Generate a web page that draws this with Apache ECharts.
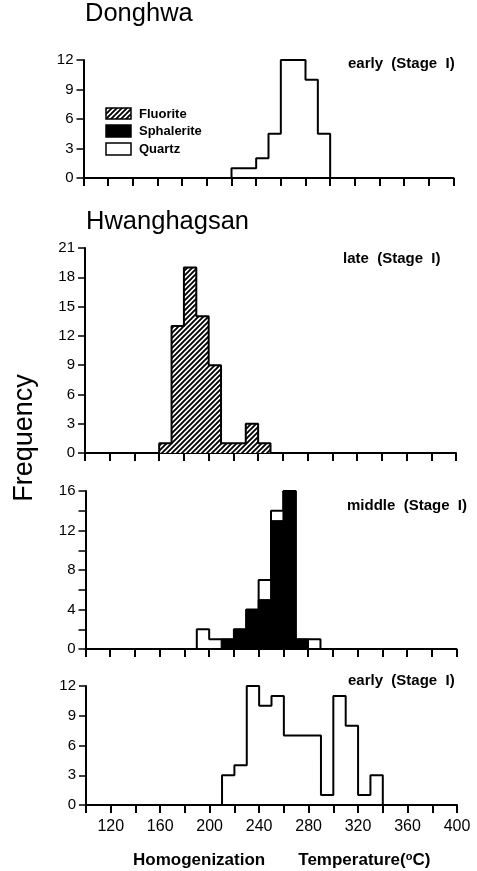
<!DOCTYPE html>
<html>
<head>
<meta charset="utf-8">
<script src="https://cdn.jsdelivr.net/npm/echarts@6/dist/echarts.min.js"></script>
<style>
html, body { margin: 0; padding: 0; background: #fff; }
#chart { width: 477px; height: 871px; }
</style>
</head>
<body>
<div id="chart"></div>
<script>
// histogram bins are 10 degC wide; each array starts at the given temperature
var binWidth = 10;
var donghwaStart = 220;
var donghwaQuartz = [1, 1, 2, 4.5, 12, 12, 10, 4.5];
var lateStart = 160;
var lateFluorite = [1, 13, 19, 14, 9, 1, 1, 3, 1];
var middleStart = 190;
var middleSphalerite = [0, 0, 1, 2, 4, 5, 13, 16, 1, 0];
var middleQuartz = [2, 1, 0, 0, 0, 2, 1, 0, 0, 1];
var earlyStart = 210;
var earlyQuartz = [3, 4, 12, 10, 11, 7, 7, 7, 1, 11, 8, 1, 3];
var xLabels = [120, 160, 200, 240, 280, 320, 360, 400];

var FONT = "'Liberation Sans', Arial, sans-serif";

function hatchCanvas() {
    var s = 5, c = document.createElement('canvas');
    c.width = s; c.height = s;
    var g = c.getContext('2d');
    g.fillStyle = '#fff';
    g.fillRect(0, 0, s, s);
    g.strokeStyle = '#000';
    g.lineWidth = 1.9;
    g.beginPath();
    g.moveTo(0, s); g.lineTo(s, 0);
    g.moveTo(-1, 1); g.lineTo(1, -1);
    g.moveTo(s - 1, s + 1); g.lineTo(s + 1, s - 1);
    g.stroke();
    return c;
}
var hatch = {image: hatchCanvas(), repeat: 'repeat'};

function stepData(start, vals) {
    var pts = [[start, 0]];
    vals.forEach(function (v, i) { pts.push([start + i * binWidth, v]); });
    pts.push([start + vals.length * binWidth, 0]);
    return pts;
}
function binData(start, vals) {
    return vals.map(function (v, i) {
        return [start + i * binWidth, start + (i + 1) * binWidth, v];
    });
}
function outline(idx, pts) {
    return {
        type: 'line', xAxisIndex: idx, yAxisIndex: idx, data: pts,
        step: 'end', symbol: 'none', z: 5, animation: false,
        lineStyle: {color: '#000', width: 2}
    };
}
function fill(idx, bins, color, solid) {
    return {
        type: 'custom', xAxisIndex: idx, yAxisIndex: idx, data: bins,
        encode: {x: [0, 1], y: 2}, z: 3, animation: false,
        renderItem: function (params, api) {
            var p0 = api.coord([api.value(0), 0]);
            var p1 = api.coord([api.value(1), api.value(2)]);
            return {
                type: 'rect',
                shape: {x: p0[0] - 0.4, y: p1[1], width: p1[0] - p0[0] + 0.8, height: p0[1] - p1[1]},
                style: solid ? {fill: color, stroke: color, lineWidth: 1} : {fill: color}
            };
        }
    };
}
function xAxis(idx, showLabels) {
    return {
        type: 'value', gridIndex: idx, min: 100, max: 400, interval: 20,
        axisLine: {show: true, onZero: false, lineStyle: {color: '#000', width: 2}},
        axisTick: {show: true, length: 8, lineStyle: {color: '#000', width: 2}},
        splitLine: {show: false},
        axisLabel: {
            show: showLabels, color: '#000', fontSize: 16, fontFamily: FONT, margin: 14,
            formatter: function (v) { return xLabels.indexOf(v) >= 0 ? String(v) : ''; }
        }
    };
}
function yAxis(idx, max, step, minor) {
    return {
        type: 'value', gridIndex: idx, min: 0, max: max, interval: step,
        axisLine: {show: true, lineStyle: {color: '#000', width: 2}},
        axisTick: {show: true, length: 7, lineStyle: {color: '#000', width: 1.5}},
        minorTick: {show: !!minor, splitNumber: 2, length: 7, lineStyle: {color: '#000', width: 1.5}},
        splitLine: {show: false},
        axisLabel: {color: '#000', fontSize: 15, fontFamily: FONT, margin: 10}
    };
}

var middleTotal = middleSphalerite.map(function (v, i) { return v + middleQuartz[i]; });

function txt(x, y, text, font, extra) {
    var st = {text: text, font: font + ' ' + FONT, fill: '#000', align: 'left', verticalAlign: 'middle'};
    if (extra) { for (var k in extra) st[k] = extra[k]; }
    return {type: 'text', x: x, y: y, style: st, z: 10};
}

var chart = echarts.init(document.getElementById('chart'));
chart.setOption({
    animation: false,
    backgroundColor: '#fff',
    grid: [
        {left: 83.5, width: 370, top: 60, height: 118, outerBoundsMode: 'none'},
        {left: 85, width: 371, top: 248, height: 205, outerBoundsMode: 'none'},
        {left: 85.5, width: 371, top: 491, height: 158, outerBoundsMode: 'none'},
        {left: 86, width: 371, top: 686, height: 119, outerBoundsMode: 'none'}
    ],
    xAxis: [xAxis(0, false), xAxis(1, false), xAxis(2, false), xAxis(3, true)],
    yAxis: [yAxis(0, 12, 3), yAxis(1, 21, 3), yAxis(2, 16, 4, true), yAxis(3, 12, 3)],
    series: [
        outline(0, stepData(donghwaStart, donghwaQuartz)),
        fill(1, binData(lateStart, lateFluorite), hatch, false),
        outline(1, stepData(lateStart, lateFluorite)),
        fill(2, binData(middleStart, middleSphalerite), '#000', true),
        outline(2, stepData(middleStart, middleTotal)),
        outline(3, stepData(earlyStart, earlyQuartz))
    ],
    graphic: [
        txt(85, 14, 'Donghwa', '25.5px'),
        txt(86, 222, 'Hwanghagsan', '25.5px'),
        {type: 'text', x: 25, y: 438, rotation: Math.PI / 2, z: 10,
         style: {text: 'Frequency', font: '27px ' + FONT, fill: '#000', align: 'center', verticalAlign: 'middle'}},
        txt(348, 63.5, 'early  (Stage  I)', 'bold 15px'),
        txt(343, 259, 'late  (Stage  I)', 'bold 15px'),
        txt(347, 505.5, 'middle  (Stage  I)', 'bold 15px'),
        txt(348, 681, 'early  (Stage  I)', 'bold 15px'),
        txt(133, 860, 'Homogenization       Temperature({s|o}C)', 'bold 17px',
            {rich: {s: {font: 'bold 11px ' + FONT, fill: '#000', verticalAlign: 'top'}}}),
        {type: 'rect', shape: {x: 106, y: 108, width: 25, height: 11}, z: 10,
         style: {fill: hatch, stroke: '#000', lineWidth: 1.5}},
        {type: 'rect', shape: {x: 106, y: 125, width: 25, height: 12}, z: 10,
         style: {fill: '#000', stroke: '#000', lineWidth: 1.5}},
        {type: 'rect', shape: {x: 106, y: 143, width: 25, height: 12}, z: 10,
         style: {fill: '#fff', stroke: '#000', lineWidth: 1.5}},
        txt(139, 114, 'Fluorite', 'bold 13px'),
        txt(139, 131, 'Sphalerite', 'bold 13px'),
        txt(139, 149, 'Quartz', 'bold 13px')
    ]
});
</script>
</body>
</html>
